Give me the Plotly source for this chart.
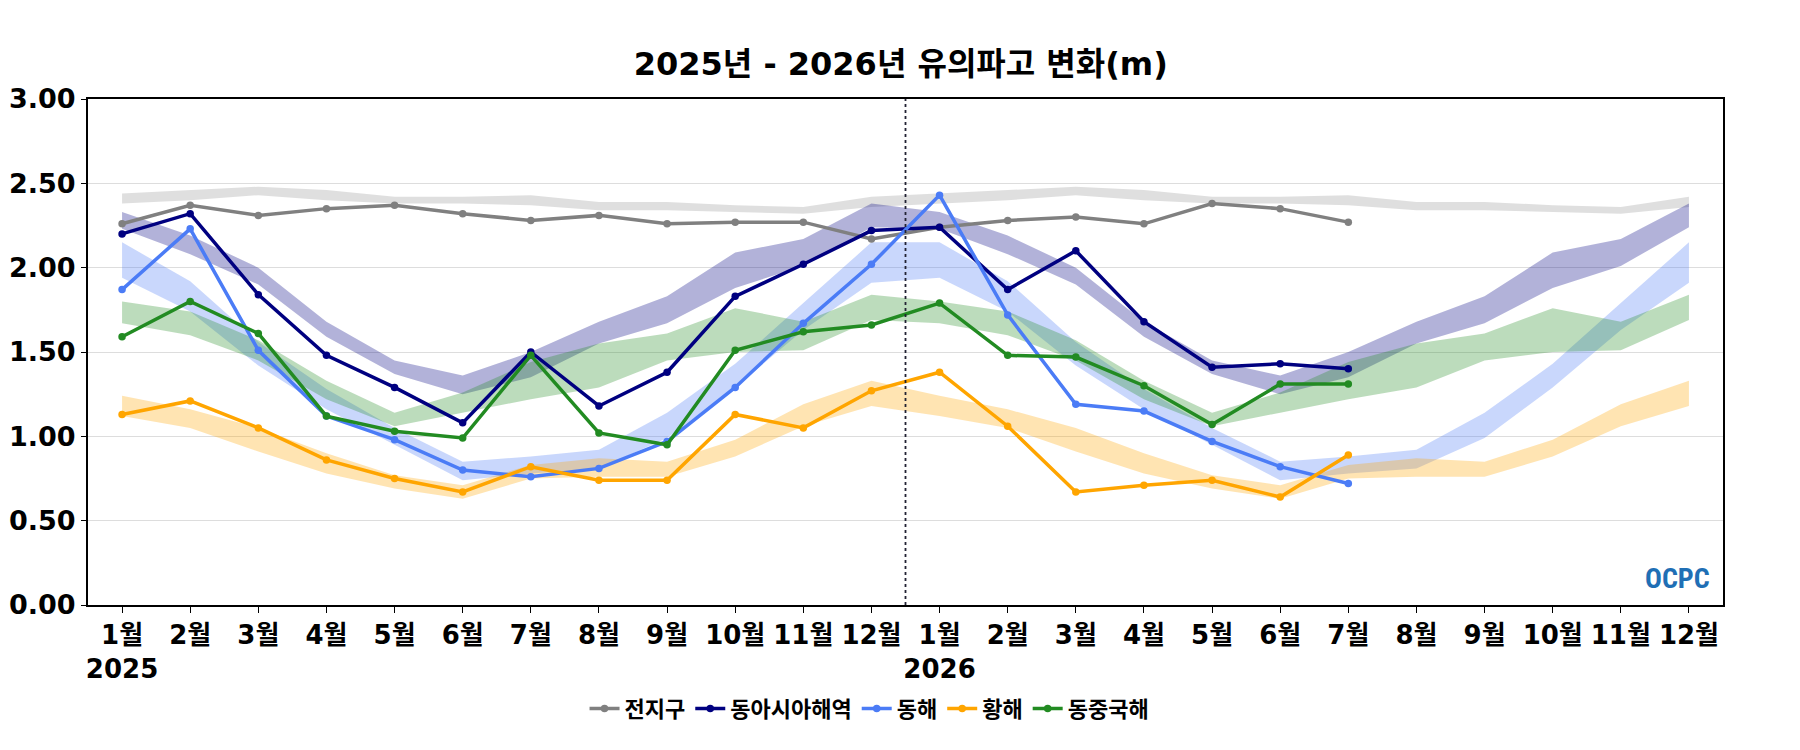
import plotly.graph_objects as go

# 월 라벨 (2025.01 ~ 2026.12)
months = [f"{y}-{m:02d}" for y in (2025, 2026) for m in range(1, 13)]
tick_text = ["1월<br>2025"] + [f"{m}월" for m in range(2, 13)] + ["1월<br>2026"] + [f"{m}월" for m in range(2, 13)]

# 관측 유의파고 (2025.01 ~ 2026.07)
global_obs = [2.26, 2.37, 2.31, 2.35, 2.37, 2.32, 2.28, 2.31, 2.26, 2.27, 2.27, 2.17,
              2.24, 2.28, 2.30, 2.26, 2.38, 2.35, 2.27]
east_asia_obs = [2.20, 2.32, 1.84, 1.48, 1.29, 1.08, 1.50, 1.18, 1.38, 1.83, 2.02, 2.22,
                 2.24, 1.87, 2.10, 1.68, 1.41, 1.43, 1.40]
east_sea_obs = [1.87, 2.23, 1.51, 1.12, 0.98, 0.80, 0.76, 0.81, 0.97, 1.29, 1.67, 2.02,
                2.43, 1.72, 1.19, 1.15, 0.97, 0.82, 0.72]
yellow_sea_obs = [1.13, 1.21, 1.05, 0.86, 0.75, 0.67, 0.82, 0.74, 0.74, 1.13, 1.05, 1.27,
                  1.38, 1.06, 0.67, 0.71, 0.74, 0.64, 0.89]
ecs_obs = [1.59, 1.80, 1.61, 1.12, 1.03, 0.99, 1.48, 1.02, 0.95, 1.51, 1.62, 1.66,
           1.79, 1.48, 1.47, 1.30, 1.07, 1.31, 1.31]

# 평년 범위 (1~12월, 하한 / 상한)
global_lo = [2.38, 2.40, 2.43, 2.40, 2.38, 2.38, 2.37, 2.34, 2.34, 2.33, 2.32, 2.36]
global_hi = [2.44, 2.46, 2.48, 2.46, 2.42, 2.42, 2.43, 2.39, 2.39, 2.37, 2.36, 2.42]
east_asia_lo = [2.23, 2.08, 1.90, 1.59, 1.37, 1.25, 1.35, 1.55, 1.67, 1.88, 2.01, 2.24]
east_asia_hi = [2.33, 2.19, 2.00, 1.68, 1.45, 1.36, 1.50, 1.68, 1.83, 2.09, 2.17, 2.38]
east_sea_lo = [1.94, 1.74, 1.42, 1.16, 0.95, 0.74, 0.78, 0.81, 0.99, 1.29, 1.63, 1.91]
east_sea_hi = [2.15, 1.92, 1.56, 1.28, 1.05, 0.85, 0.88, 0.92, 1.14, 1.43, 1.79, 2.15]
yellow_sea_lo = [1.12, 1.05, 0.91, 0.78, 0.69, 0.63, 0.75, 0.76, 0.76, 0.88, 1.06, 1.18]
yellow_sea_hi = [1.24, 1.16, 1.05, 0.90, 0.77, 0.71, 0.83, 0.87, 0.85, 0.98, 1.19, 1.33]
ecs_lo = [1.67, 1.60, 1.45, 1.22, 1.06, 1.14, 1.22, 1.29, 1.45, 1.50, 1.51, 1.69]
ecs_hi = [1.80, 1.74, 1.57, 1.33, 1.14, 1.26, 1.44, 1.55, 1.61, 1.76, 1.68, 1.84]

series = [
    ("전지구", global_obs, global_lo, global_hi, "#808080", "rgba(128,128,128,0.25)"),
    ("동아시아해역", east_asia_obs, east_asia_lo, east_asia_hi, "#000080", "rgba(0,0,128,0.3)"),
    ("동해", east_sea_obs, east_sea_lo, east_sea_hi, "#4b7cf6", "rgba(75,124,246,0.3)"),
    ("황해", yellow_sea_obs, yellow_sea_lo, yellow_sea_hi, "#FFA500", "rgba(255,165,0,0.3)"),
    ("동중국해", ecs_obs, ecs_lo, ecs_hi, "#228B22", "rgba(34,139,34,0.3)"),
]

FONT = "DejaVu Sans, Noto Sans CJK KR, sans-serif"

fig = go.Figure()

# 평년 범위 밴드 (두 해 모두 같은 평년값)
for name, obs, lo, hi, color, fill in series:
    fig.add_trace(go.Scatter(x=months, y=lo + lo, mode="lines", line=dict(width=0),
                             showlegend=False, hoverinfo="skip"))
    fig.add_trace(go.Scatter(x=months, y=hi + hi, mode="lines", line=dict(width=0),
                             fill="tonexty", fillcolor=fill,
                             showlegend=False, hoverinfo="skip"))

# 관측값
for name, obs, lo, hi, color, fill in series:
    fig.add_trace(go.Scatter(x=months[:len(obs)], y=obs, name=name, mode="lines+markers",
                             line=dict(color=color, width=3.5),
                             marker=dict(color=color, size=7.5)))

# 연도 경계
fig.add_shape(type="line", xref="x", yref="paper", x0=11.5, x1=11.5, y0=0, y1=1,
              line=dict(color="#222233", width=1.8, dash="dot"))

fig.add_annotation(text="<b>OCPC</b>", xref="paper", yref="paper", x=0.993, y=0.015,
                   xanchor="right", yanchor="bottom", showarrow=False,
                   font=dict(family="Roboto Condensed, Liberation Sans Narrow, Roboto, sans-serif",
                             size=28, color="#1f6fb5"))

fig.update_layout(
    width=1800, height=750,
    paper_bgcolor="white", plot_bgcolor="white",
    margin=dict(l=80, r=85, t=91, b=153),
    title=dict(text="<b>2025년 - 2026년 유의파고 변화(m)</b>", x=0.496, xanchor="center",
               y=0.926, yanchor="middle", font=dict(family=FONT, size=32, color="black")),
    font=dict(family=FONT, color="black"),
    legend=dict(orientation="h", x=0.478, xanchor="center", y=-0.205, yanchor="middle",
                font=dict(family=FONT, size=22, weight="bold"), itemwidth=30,
                traceorder="normal", tracegroupgap=0),
    xaxis=dict(type="category", categoryorder="array", categoryarray=months,
               range=[-0.5, 23.5], tickmode="array", tickvals=months, ticktext=tick_text,
               tickangle=0, automargin=False,
               tickfont=dict(family=FONT, size=26, weight="bold"),
               showgrid=False, showline=True, linecolor="black", linewidth=2, mirror=True,
               ticks="outside", ticklen=6, tickcolor="black"),
    yaxis=dict(range=[0, 3.0], tickvals=[0, 0.5, 1.0, 1.5, 2.0, 2.5, 3.0], tickformat=".2f",
               automargin=False,
               tickfont=dict(family=FONT, size=27, weight="bold"),
               showgrid=True, gridcolor="#dddddd", gridwidth=1, zeroline=False,
               showline=True, linecolor="black", linewidth=2, mirror=True,
               ticks="outside", ticklen=5, tickcolor="black"),
)

fig.write_html("out.html")
